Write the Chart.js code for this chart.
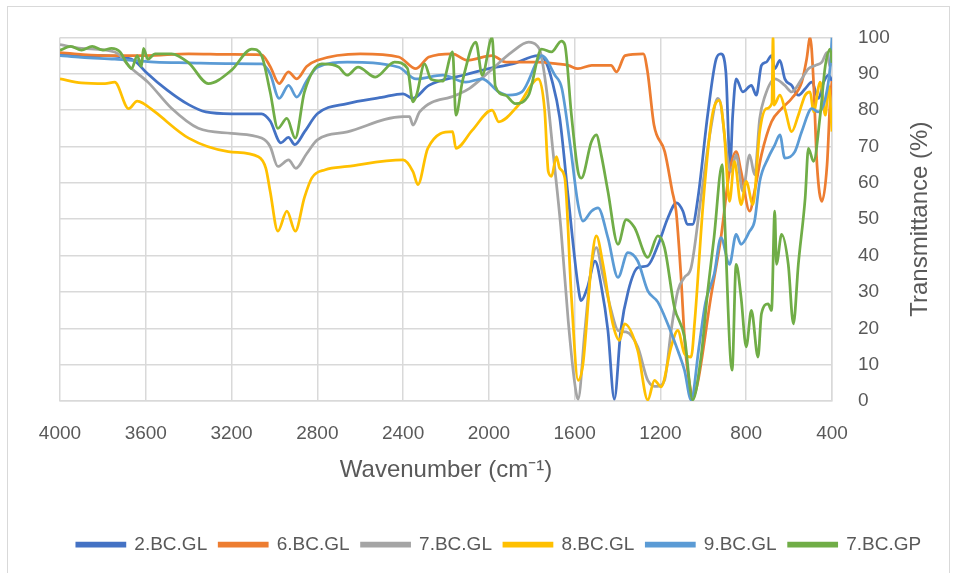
<!DOCTYPE html>
<html>
<head>
<meta charset="utf-8">
<title>FTIR spectra</title>
<script src="https://cdn.jsdelivr.net/npm/chart.js@4/dist/chart.umd.min.js"></script>
<style>
  body { margin: 0; background: #fff; }
</style>
</head>
<body>
<canvas id="ftirChart" width="954" height="573"></canvas>
<script>
/* series names + colours (Excel default palette) */
var seriesNames = ['2.BC.GL', '6.BC.GL', '7.BC.GL', '8.BC.GL', '9.BC.GL', '7.BC.GP'];
var seriesColors = ['#4472C4', '#ED7D31', '#A5A5A5', '#FFC000', '#5B9BD5', '#70AD47'];

/* axis ticks */
var waveMin = 400, waveMax = 4000, waveStep = 400;
var transMin = 0, transMax = 100, transStep = 10;

/* 2.BC.GL */
var wave2GL = [4000,3900,3800,3700,3650,3600,3500,3400,3320,3200,3060,3020,2970,2935,2905,2860,2800,2660,2500,2400,2355,2280,2120,2000,1890,1770,1740,1705,1670,1630,1585,1570,1540,1505,1475,1445,1415,1385,1350,1305,1260,1210,1165,1125,1095,1075,1050,1025,980,940,918,895,875,863,847,816,776,753,729,706,682,667,643,620,588,557,525,494,463,439,416,400];
var trans2GL = [95.5,95,95,94.5,93.5,90.5,85.5,81.5,79.5,79,79,77,71,72.5,70.5,74,79,81.8,83.5,84.5,83.2,86.8,89.6,91.4,92.7,95,94,88,78,56,32,27.6,31.3,38.5,31.3,19.4,0.5,19.4,30.3,36.7,37.2,43.1,50.4,54.5,52.2,48.6,48.6,55.9,78.6,94.1,95.5,90.5,65,78.6,88.6,85,86.8,84.1,92.3,93.2,95,91.4,93.7,88.6,86.8,84.1,85.9,87.7,83.2,87.7,89.6,88];

/* 6.BC.GL */
var wave6GL = [4000,3800,3600,3400,3200,3060,3020,2978,2935,2896,2850,2800,2600,2420,2340,2280,2170,2100,1985,1920,1770,1680,1630,1585,1520,1430,1405,1365,1280,1260,1230,1180,1145,1127,1105,1085,1062,1048,1027,965,918,878,847,824,784,761,729,682,635,588,541,518,502,486,470,447,423,408,400];
var trans6GL = [95.8,95,95,95.5,95.3,95.2,92,87.3,90.5,88.6,92,93.7,95.5,94.6,91.4,94.6,95.5,93.7,95,93.2,93.2,92.7,92.3,91.4,92.3,92.3,90.5,95,95.5,90.5,75.9,68.6,57.7,52.2,35,15,4,1.2,4.8,28.5,44.9,63.1,68.6,63.1,52.2,57.7,67.7,76.8,80.4,83.2,87.7,94.1,100,87.7,65,54.9,65,83.2,88];

/* 7.BC.GL */
var wave7GL = [4000,3900,3745,3665,3590,3480,3355,3200,3060,3020,2984,2934,2900,2850,2800,2660,2400,2370,2354,2323,2154,2090,2000,1892,1815,1777,1760,1730,1700,1665,1630,1600,1584,1553,1522,1499,1470,1430,1398,1360,1306,1259,1215,1181,1150,1119,1088,1057,1011,965,933,918,894,871,847,816,784,761,737,714,667,620,588,541,510,478,447,423,410,400];
var trans7GL = [98,97,96,91.4,87.7,80.5,75,73.6,72.3,70,64.5,66.3,64,68,71.8,74,78.2,78.2,75.9,79.5,84.1,86,90.5,96,98.7,97.8,96,85,68,48,22,5,0.5,19,37,42.2,35,25,19.4,19,14.9,5.7,4,5.7,19.4,30.3,34,36.7,55.9,75,83.2,81.4,69.5,63.1,67.7,57.7,67.7,62.2,77.7,83.6,88.6,86.8,85,88.6,91.4,92.3,93.2,95.9,92,94];

/* 8.BC.GL */
var wave8GL = [4000,3900,3790,3745,3680,3640,3610,3557,3400,3215,3075,3040,3020,2984,2942,2903,2860,2826,2763,2660,2400,2354,2331,2285,2169,2154,2077,1985,1954,1862,1769,1740,1723,1708,1685,1670,1646,1615,1584,1561,1522,1499,1468,1422,1391,1367,1306,1259,1228,1197,1150,1119,1088,1057,1040,1000,960,926,903,878,855,824,800,769,737,706,680,675,670,643,620,588,557,525,502,486,455,431,416,400];
var trans8GL = [88.6,87.5,87.3,87.7,80.4,82.5,81.8,79.5,72.3,68.6,67.2,64,57.7,46.7,52.2,46.7,56,61.3,63.6,64.5,66.3,63.1,59.5,69.5,74.1,69.5,74.5,80,76.8,81.4,88.6,80,63.1,61.8,67.2,64,61.3,28.5,5.7,10.3,37.6,45.4,37.6,21.2,16.7,21.2,13.9,0.3,5.7,3.9,14.9,19.4,13,12.1,22,55,78,82.7,74.1,54.9,65.9,54,60.4,54,74.1,80.4,82,100,81.4,84.1,80.4,74.1,78.6,84.1,85,79.5,87.7,78.6,86.8,74.1];

/* 9.BC.GL */
var wave9GL = [4000,3900,3745,3557,3400,3200,3060,3020,2978,2934,2896,2850,2800,2660,2420,2340,2215,2108,2031,1954,1908,1846,1769,1754,1692,1660,1620,1584,1561,1522,1491,1445,1398,1352,1306,1259,1212,1166,1119,1088,1057,1020,990,949,918,878,847,824,784,761,737,698,667,643,620,573,541,494,463,431,408,400];
var trans9GL = [95,94.5,94,93.2,93,92.8,92.7,90,83.2,86.8,83.6,88,91.8,93.2,91.8,88.6,89.6,87.7,88.6,85,84.1,85,94.1,95,89.6,86,70,54,49.5,52.2,53.1,44.9,34,40.8,38.5,30.3,27.2,21.2,13.9,8.5,0.3,15,27,35,44.9,37.6,45.8,43.1,46.7,49.5,60.4,66.8,70.4,73.2,66.8,68.6,74.1,80.4,79.5,83.2,92.3,100];

/* 7.BC.GP */
var waveGP = [4000,3950,3900,3850,3800,3760,3720,3690,3666,3640,3620,3611,3590,3557,3480,3400,3308,3200,3106,3060,3020,2984,2942,2903,2860,2779,2730,2700,2661,2610,2530,2440,2380,2354,2338,2300,2270,2215,2169,2154,2123,2061,2031,1985,1970,1923,1877,1815,1754,1708,1662,1646,1615,1584,1569,1522,1499,1476,1445,1398,1360,1321,1259,1212,1181,1135,1088,1050,1011,980,950,912,902,866,847,824,800,776,745,729,698,682,667,659,635,604,580,557,525,510,486,455,431,408,400];
var transGP = [96.5,97.5,96.5,97.5,96.5,97,96,93,91.4,95,92,97,94,95.5,95.5,93,87.3,91,96.8,95,85,75,77.7,72.3,85,92.7,92.5,91.8,89.6,91.8,89.1,93.2,91.5,82.3,84,92.7,88.5,88,96,78.6,88,98.7,89.6,100,86.6,84.1,81.8,84.1,96.8,96,99,98,78.6,63,61.3,71.3,73.2,67.7,57.7,43.1,49.9,47.7,39.5,45.4,42.2,25.8,17.6,0.3,12,30,45,65,52,8.5,37.6,28.5,14.9,24.9,12.1,24,26.7,24.9,52.2,37.6,45.8,37.6,21.2,37.6,55.9,69.5,65.9,78.6,92.3,96.8,93];

var allWaves = [wave2GL, wave6GL, wave7GL, wave8GL, wave9GL, waveGP];
var allTrans = [trans2GL, trans6GL, trans7GL, trans8GL, trans9GL, transGP];

var textGrey = '#595959';
var gridGrey = '#d9d9d9';
var fontFamily = '"Liberation Sans", Arial, sans-serif';

// white background, outer chart frame and the right-hand axis title
var framePlugin = {
    id: 'frame',
    beforeDraw: function (chart) {
        var c = chart.ctx;
        c.save();
        c.fillStyle = '#fff';
        c.fillRect(0, 0, chart.width, chart.height);
        c.strokeStyle = gridGrey;
        c.lineWidth = 1;
        c.strokeRect(7.5, 6.5, 942, 600);
        c.restore();
    },
    afterDraw: function (chart) {
        var c = chart.ctx;
        var area = chart.chartArea;
        c.save();
        c.translate(920, (area.top + area.bottom) / 2);
        c.rotate(-Math.PI / 2);
        c.font = '24px ' + fontFamily;
        c.fillStyle = textGrey;
        c.textAlign = 'center';
        c.textBaseline = 'middle';
        c.fillText('Transmittance (%)', 0, 0);
        c.restore();
    }
};

document.addEventListener('DOMContentLoaded', function () {
    var ctx = document.getElementById('ftirChart').getContext('2d');

    var datasets = seriesNames.map(function (name, i) {
        return {
            label: name,
            data: allWaves[i].map(function (w, j) { return { x: w, y: allTrans[i][j] }; }),
            borderColor: seriesColors[i],
            backgroundColor: seriesColors[i],
            borderWidth: 2.75,
            pointRadius: 0,
            cubicInterpolationMode: 'monotone',
            order: seriesNames.length - i // later series drawn on top, like Excel
        };
    });

    var ftirChart = new Chart(ctx, {
        type: 'line',
        data: { datasets: datasets },
        plugins: [framePlugin],
        options: {
            responsive: false,
            animation: false,
            layout: { padding: { left: 60, right: 16, top: 35, bottom: 9 } },
            scales: {
                x: {
                    type: 'linear',
                    reverse: true,
                    min: waveMin,
                    max: waveMax,
                    afterFit: function (scale) { scale.height = 122; },
                    ticks: {
                        stepSize: waveStep,
                        autoSkip: false,
                        maxRotation: 0,
                        padding: 21,
                        color: textGrey,
                        font: { family: fontFamily, size: 19 },
                        callback: function (value) { return String(value); } // no thousands comma
                    },
                    grid: { color: gridGrey, lineWidth: 1.5, drawTicks: false },
                    border: { color: gridGrey, width: 1.5 },
                    title: {
                        display: true,
                        text: 'Wavenumber (cm\u207B\u00B9)',
                        color: textGrey,
                        font: { family: fontFamily, size: 24 },
                        padding: { top: 0, bottom: 38 }
                    }
                },
                y: {
                    position: 'right',
                    min: transMin,
                    max: transMax,
                    afterFit: function (scale) { scale.width = 106; },
                    ticks: {
                        stepSize: transStep,
                        padding: 26,
                        color: textGrey,
                        font: { family: fontFamily, size: 19 }
                    },
                    grid: { color: gridGrey, lineWidth: 1.5, drawTicks: false },
                    border: { color: gridGrey, width: 1.5 }
                }
            },
            plugins: {
                legend: {
                    position: 'bottom',
                    labels: {
                        boxWidth: 48,
                        boxHeight: 3,
                        padding: 12,
                        color: textGrey,
                        font: { family: fontFamily, size: 19 },
                        sort: function (a, b) { return a.datasetIndex - b.datasetIndex; }
                    }
                },
                tooltip: { enabled: false }
            }
        }
    });
});
</script>
</body>
</html>
